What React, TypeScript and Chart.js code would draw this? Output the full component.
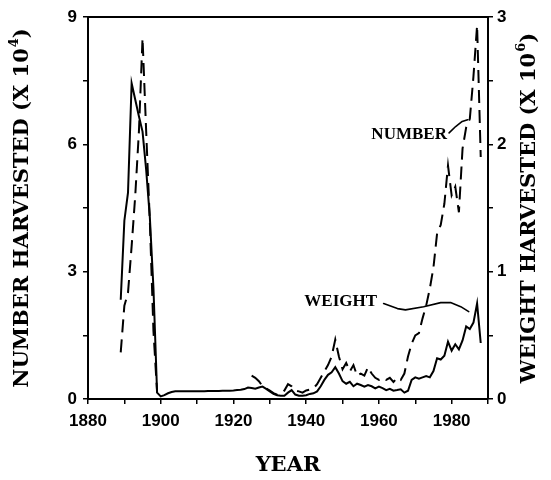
import React, { useEffect, useRef } from "react";
import { Chart, registerables } from "chart.js";

Chart.register(...registerables);

// ---- data ----
const years = [
  1889, 1890, 1891, 1892, 1893, 1894, 1895, 1896, 1897, 1898, 1899,
  1900, 1901, 1902, 1903, 1904, 1905, 1906, 1907, 1908, 1909,
  1910, 1911, 1912, 1913, 1914, 1915, 1916, 1917, 1918, 1919,
  1920, 1921, 1922, 1923, 1924, 1925, 1926, 1927, 1928, 1929,
  1930, 1931, 1932, 1933, 1934, 1935, 1936, 1937, 1938, 1939,
  1940, 1941, 1942, 1943, 1944, 1945, 1946, 1947, 1948, 1949,
  1950, 1951, 1952, 1953, 1954, 1955, 1956, 1957, 1958, 1959,
  1960, 1961, 1962, 1963, 1964, 1965, 1966, 1967, 1968, 1969,
  1970, 1971, 1972, 1973, 1974, 1975, 1976, 1977, 1978, 1979,
  1980, 1981, 1982, 1983, 1984, 1985, 1986, 1987, 1988,
];

// weight harvested, millions (right axis)
const weightMillions = [
  0.78, 1.40, 1.62, 2.48, 2.35, 2.22, 2.10, 1.80, 1.43, 0.87, 0.05,
  0.02, 0.03, 0.045, 0.055, 0.06, 0.06, 0.06, 0.06, 0.06, 0.06,
  0.06, 0.06, 0.06, 0.062, 0.062, 0.063, 0.063, 0.064, 0.064, 0.065,
  0.067, 0.07, 0.072, 0.078, 0.09, 0.087, 0.08, 0.09, 0.097, 0.08,
  0.06, 0.04, 0.03, 0.026, 0.026, 0.05, 0.07, 0.035, 0.026, 0.026,
  0.03, 0.04, 0.045, 0.06, 0.10, 0.15, 0.19, 0.21, 0.25, 0.20,
  0.14, 0.12, 0.135, 0.10, 0.12, 0.11, 0.097, 0.11, 0.10, 0.084,
  0.097, 0.085, 0.07, 0.08, 0.065, 0.07, 0.076, 0.05, 0.065, 0.15,
  0.17, 0.16, 0.17, 0.18, 0.17, 0.22, 0.32, 0.31, 0.34, 0.45,
  0.38, 0.43, 0.39, 0.46, 0.57, 0.55, 0.60, 0.75, 0.44,
];

// number harvested, ten-thousands (left axis); null = no record
const numberTenThousands = [
  1.1, 2.2, 2.5, 3.6, 4.8, 6.3, 8.5, 6.3, 4.2, 1.6, 0.15,
  null, null, null, null, null, null, null, null, null, null,
  null, null, null, null, null, null, null, null, null, null,
  null, null, null, null, null, 0.55, 0.5, 0.42, 0.3, 0.25,
  0.2, 0.14, 0.1, 0.12, 0.2, 0.35, 0.3, 0.2, 0.18, 0.15,
  0.2, 0.22, 0.25, 0.35, 0.5, 0.65, 0.8, 1.0, 1.4, 1.0,
  0.7, 0.85, 0.65, 0.8, 0.55, 0.6, 0.55, 0.75, 0.6, 0.5,
  0.45, 0.5, 0.45, 0.5, 0.4, 0.5, 0.45, 0.6, 1.0, 1.3,
  1.5, 1.55, 1.9, 2.2, 2.6, 3.1, 3.9, 4.1, 4.6, 5.5,
  4.8, 5.0, 4.4, 5.9, 6.4, 6.6, 7.6, 8.8, 5.7,
];

const xTickLabels = ["1880", "1900", "1920", "1940", "1960", "1980"];
const leftTickLabels = ["0", "3", "6", "9"];
const rightTickLabels = ["0", "1", "2", "3"];

const xTitle = "YEAR";
const leftTitle = ["NUMBER HARVESTED (X 10", "4", ")"];
const rightTitle = ["WEIGHT HARVESTED (X 10", "6", ")"];

// annotation anchors in data units
const numberLabel = { text: "NUMBER", year: 1978.7, value: 6.23 };
const numberLeaderYears = [1979.3, 1981.1, 1982.9, 1984.4];
const numberLeaderValues = [6.27, 6.42, 6.54, 6.58];
const weightLabel = { text: "WEIGHT", year: 1959.5, value: 0.766 };
const weightLeaderYears = [1961.3, 1965.1, 1967.3, 1972.3, 1977, 1979.7, 1982.5, 1984.7];
const weightLeaderValues = [0.75, 0.71, 0.70, 0.725, 0.757, 0.757, 0.725, 0.686];

const TICK_FONT = { family: '"Liberation Sans", Arial, sans-serif', size: 17, weight: "bold" as const };
const SERIF = '"DejaVu Serif", "Liberation Serif", serif';
const LABEL_SERIF = '"Liberation Serif", "Times New Roman", serif';

function drawRotatedTitle(ctx: CanvasRenderingContext2D, cx: number, cy: number, parts: string[], size: number) {
  const [main, sup, close] = parts;
  ctx.save();
  ctx.translate(cx, cy);
  ctx.rotate(-Math.PI / 2);
  ctx.fillStyle = "#000";
  ctx.textBaseline = "middle";
  ctx.textAlign = "left";
  const mainFont = `bold ${size}px ${SERIF}`;
  const supFont = `bold ${Math.round(size * 0.62)}px ${SERIF}`;
  ctx.font = mainFont;
  const wMain = ctx.measureText(main).width;
  const wClose = ctx.measureText(close).width;
  ctx.font = supFont;
  const wSup = ctx.measureText(sup).width;
  const total = wMain + wSup + wClose + 1;
  let x = -total / 2;
  ctx.font = mainFont;
  ctx.fillText(main, x, 0);
  x += wMain + 1;
  ctx.font = supFont;
  ctx.fillText(sup, x, -size * 0.42);
  x += wSup;
  ctx.font = mainFont;
  ctx.fillText(close, x, 0);
  ctx.restore();
}

const overlayPlugin = {
  id: "overlay",
  afterDatasetsDraw(chart: any) {
    const { ctx, chartArea: a, scales } = chart;
    const sx = scales.x;
    const yL = scales.yL;
    const yR = scales.yR;
    ctx.save();
    ctx.strokeStyle = "#000";
    ctx.lineWidth = 2;
    ctx.beginPath();
    ctx.moveTo(a.left, a.top);
    ctx.lineTo(a.right, a.top);
    ctx.stroke();

    // leaders
    ctx.lineWidth = 1.6;
    ctx.lineJoin = "round";
    ctx.lineCap = "round";
    ctx.beginPath();
    numberLeaderYears.forEach((yr, i) => {
      const px = sx.getPixelForValue(yr);
      const py = yL.getPixelForValue(numberLeaderValues[i]);
      if (i === 0) ctx.moveTo(px, py);
      else ctx.lineTo(px, py);
    });
    ctx.stroke();
    ctx.beginPath();
    weightLeaderYears.forEach((yr, i) => {
      const px = sx.getPixelForValue(yr);
      const py = yR.getPixelForValue(weightLeaderValues[i]);
      if (i === 0) ctx.moveTo(px, py);
      else ctx.lineTo(px, py);
    });
    ctx.stroke();

    // labels
    ctx.fillStyle = "#000";
    ctx.font = `bold 17px ${LABEL_SERIF}`;
    ctx.textAlign = "right";
    ctx.textBaseline = "middle";
    ctx.fillText(numberLabel.text, sx.getPixelForValue(numberLabel.year), yL.getPixelForValue(numberLabel.value));
    ctx.fillText(weightLabel.text, sx.getPixelForValue(weightLabel.year), yR.getPixelForValue(weightLabel.value));

    // axis titles
    ctx.textAlign = "center";
    ctx.font = `bold 21px ${SERIF}`;
    ctx.fillText(xTitle, (a.left + a.right) / 2, a.bottom + 67);
    const midY = (a.top + a.bottom) / 2;
    drawRotatedTitle(ctx, a.left - 65, midY, leftTitle, 21);
    drawRotatedTitle(ctx, a.right + 42, midY, rightTitle, 21);
    ctx.restore();
  },
};

export default function App() {
  const canvasRef = useRef<HTMLCanvasElement | null>(null);

  useEffect(() => {
    const canvas = canvasRef.current;
    if (!canvas) return;
    const weightData = years.map((y, i) => ({ x: y, y: weightMillions[i] }));
    const numberData = years.map((y, i) => ({ x: y, y: numberTenThousands[i] }));
    const gridCommon = {
      display: true,
      drawOnChartArea: false,
      drawTicks: true,
      tickLength: 5,
      color: "#000",
      lineWidth: 1.5,
    };
    const borderCommon = { display: true, color: "#000", width: 2 };
    const chart = new Chart(canvas, {
      type: "line",
      data: {
        datasets: [
          {
            label: "Weight",
            data: weightData as any,
            yAxisID: "yR",
            borderColor: "#000",
            borderWidth: 2,
            pointRadius: 0,
            tension: 0,
            fill: false,
          },
          {
            label: "Number",
            data: numberData as any,
            yAxisID: "yL",
            borderColor: "#000",
            borderWidth: 2,
            borderDash: [13, 7],
            pointRadius: 0,
            tension: 0,
            fill: false,
            spanGaps: false,
          },
        ],
      },
      options: {
        animation: false,
        responsive: true,
        maintainAspectRatio: false,
        layout: { padding: { top: 17, left: 0, right: 0, bottom: 0 } },
        plugins: { legend: { display: false }, tooltip: { enabled: false } },
        scales: {
          x: {
            type: "linear",
            min: 1880,
            max: 1990,
            grid: gridCommon,
            border: borderCommon,
            ticks: {
              stepSize: 10,
              autoSkip: false,
              maxRotation: 0,
              padding: 7,
              color: "#000",
              font: TICK_FONT,
              callback: (v: any) => (xTickLabels.includes(String(v)) ? String(v) : ""),
            },
            afterFit: (s: any) => {
              s.height = 81;
            },
          },
          yL: {
            type: "linear",
            position: "left",
            min: 0,
            max: 9,
            grid: gridCommon,
            border: borderCommon,
            ticks: {
              stepSize: 1.5,
              autoSkip: false,
              padding: 6,
              color: "#000",
              font: TICK_FONT,
              callback: (v: any) => (leftTickLabels.includes(String(v)) ? String(v) : ""),
            },
            afterFit: (s: any) => {
              s.width = 88;
            },
          },
          yR: {
            type: "linear",
            position: "right",
            min: 0,
            max: 3,
            grid: gridCommon,
            border: borderCommon,
            ticks: {
              stepSize: 0.5,
              autoSkip: false,
              padding: 4,
              color: "#000",
              font: TICK_FONT,
              callback: (v: any) => (rightTickLabels.includes(String(v)) ? String(v) : ""),
            },
            afterFit: (s: any) => {
              s.width = 63;
            },
          },
        },
      },
      plugins: [overlayPlugin],
    });
    return () => chart.destroy();
  }, []);

  return (
    <div style={{ position: "fixed", left: 0, top: 0, width: 551, height: 480, background: "#fff" }}>
      <canvas ref={canvasRef} />
    </div>
  );
}
